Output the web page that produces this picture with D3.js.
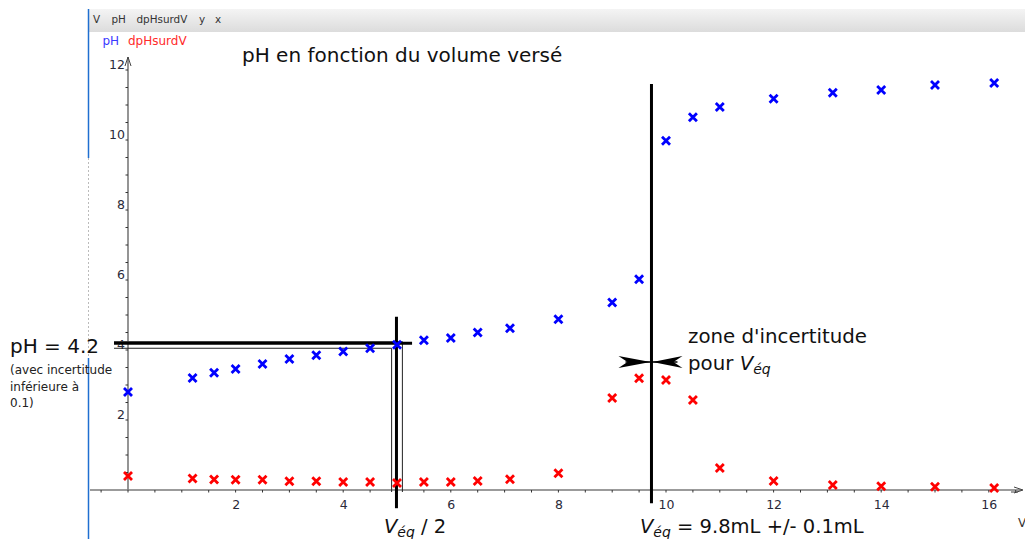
<!DOCTYPE html>
<html>
<head>
<meta charset="utf-8">
<script src="https://cdn.jsdelivr.net/npm/d3@7"></script>
<style>
html,body{margin:0;padding:0;background:#fff;}
svg{display:block;font-family:"DejaVu Sans",sans-serif;}
</style>
</head>
<body>
<svg id="chart" width="1025" height="539"></svg>
<script>
// ---- data ----
const volumes = [0, 1.2, 1.6, 2, 2.5, 3, 3.5, 4, 4.5, 5, 5.5, 6, 6.5, 7.1, 8, 9, 9.5, 10, 10.5, 11, 12, 13.1, 14, 15, 16.1];
const pHValues = [2.8, 3.2, 3.35, 3.46, 3.6, 3.74, 3.85, 3.96, 4.05, 4.15, 4.28, 4.34, 4.5, 4.62, 4.88, 5.36, 6.02, 9.98, 10.65, 10.94, 11.18, 11.35, 11.43, 11.57, 11.63];
const dpHValues = [0.4, 0.33, 0.3, 0.29, 0.29, 0.25, 0.25, 0.23, 0.23, 0.2, 0.23, 0.23, 0.26, 0.31, 0.48, 2.63, 3.19, 3.14, 2.57, 0.63, 0.26, 0.14, 0.11, 0.09, 0.06];
const xTickValues = [2, 4, 6, 8, 10, 12, 14, 16];
const yTickValues = [2, 4, 6, 8, 10, 12];
const headerLabels = ["V", "pH", "dpHsurdV", "y", "x"];
const legendLabels = ["pH", "dpHsurdV"];
const titleText = "pH en fonction du volume versé";
// annotation values (data units)
const vEq = 9.73, vEqTop = 11.6, vEqBottom = -0.38;
const vHalf = 4.99, vHalfTop = 4.95, vHalfBottom = -0.52;
const pHHalf = 4.19, pHLow = 4.05, pHHigh = 4.24, vLow = 4.9, vHigh = 5.1;
const hLineStart = -0.26, hLineEnd = 5.28;
const arrowPH = 3.66;

// ---- scales ----
const x = d3.scaleLinear().domain([0, 16]).range([128, 988.8]);
const y = d3.scaleLinear().domain([0, 12]).range([490, 70]);

const svg = d3.select("#chart");

// header band
const defs = svg.append("defs");
const grad = defs.append("linearGradient").attr("id", "hdr").attr("x1", 0).attr("x2", 0).attr("y1", 0).attr("y2", 1);
grad.append("stop").attr("offset", "0%").attr("stop-color", "#f4f4f4");
grad.append("stop").attr("offset", "100%").attr("stop-color", "#dcdcdc");
svg.append("rect").attr("x", 89).attr("y", 9).attr("width", 936).attr("height", 23).attr("fill", "url(#hdr)");
const hdrX = [93, 111.5, 136.5, 199, 215];
svg.append("g").selectAll("text").data(headerLabels).join("text")
  .attr("x", (d, i) => hdrX[i]).attr("y", 23)
  .attr("font-size", 10.4).attr("fill", "#333").text(d => d);

// left blue border
svg.append("line").attr("x1", 88.5).attr("x2", 88.5).attr("y1", 9).attr("y2", 158).attr("stroke", "#1f6fd0").attr("stroke-width", 1.5);
svg.append("line").attr("x1", 88.5).attr("x2", 88.5).attr("y1", 158).attr("y2", 358).attr("stroke", "#bbb").attr("stroke-width", 1).attr("stroke-dasharray", "2,2");
svg.append("line").attr("x1", 88.5).attr("x2", 88.5).attr("y1", 358).attr("y2", 539).attr("stroke", "#1f6fd0").attr("stroke-width", 1.5);

// legend
const legColors = ["#3a3aff", "#ff2a2a"];
const legX = [102.5, 128];
svg.append("g").selectAll("text").data(legendLabels).join("text")
  .attr("x", (d, i) => legX[i]).attr("y", 45)
  .attr("font-size", 12).attr("fill", (d, i) => legColors[i]).text(d => d);

// title
svg.append("text").attr("x", 242).attr("y", 62).attr("font-size", 20).attr("fill", "#111").text(titleText);

// axes lines
const axisColor = "#7a7a7a";
svg.append("line").attr("x1", 90).attr("x2", 1021).attr("y1", y(0)).attr("y2", y(0)).attr("stroke", axisColor).attr("stroke-width", 1.6);
svg.append("line").attr("x1", x(0)).attr("x2", x(0)).attr("y1", y(0)).attr("y2", 57).attr("stroke", axisColor).attr("stroke-width", 1.6);
// arrows
svg.append("path").attr("d", `M${x(0)-3},66 L${x(0)},57 L${x(0)+3},66`).attr("fill", "none").attr("stroke", "#444").attr("stroke-width", 1);
svg.append("path").attr("d", `M1014,${y(0)-3} L1023,${y(0)} L1014,${y(0)+3} M1011,${y(0)+2} L1018,${y(0)+2}`).attr("fill", "none").attr("stroke", "#444").attr("stroke-width", 1);

// minor ticks
const xMinor = d3.range(-0.5, 17.01, 0.5);
svg.append("g").selectAll("line").data(xMinor).join("line")
  .attr("x1", d => x(d)).attr("x2", d => x(d)).attr("y1", y(0)).attr("y2", y(0) + 2.5)
  .attr("stroke", "#333").attr("stroke-width", 1);
const yMinor = d3.range(0.5, 12.01, 0.5);
svg.append("g").selectAll("line").data(yMinor).join("line")
  .attr("x1", x(0) - 2.5).attr("x2", x(0)).attr("y1", d => y(d)).attr("y2", d => y(d))
  .attr("stroke", "#333").attr("stroke-width", 1);

// tick labels via d3 axes
const xAxis = d3.axisBottom(x).tickValues(xTickValues).tickSize(0).tickPadding(10).tickFormat(d3.format("d"));
const gx = svg.append("g").attr("transform", `translate(0,${y(0)})`).call(xAxis);
gx.select(".domain").remove();
gx.selectAll("text").attr("font-size", 12.5).attr("fill", "#2a2a3a").attr("font-family", "DejaVu Sans");
const yAxis = d3.axisLeft(y).tickValues(yTickValues).tickSize(0).tickPadding(3).tickFormat(d3.format("d"));
const gy = svg.append("g").attr("transform", `translate(${x(0)},0)`).call(yAxis);
gy.select(".domain").remove();
gy.selectAll("text").attr("font-size", 12.5).attr("fill", "#2a2a3a").attr("font-family", "DejaVu Sans").attr("dy", "-0.1em");

// annotation lines (behind markers)
const ann = svg.append("g");
ann.append("line").attr("x1", x(hLineStart)).attr("x2", x(vHigh)).attr("y1", y(pHHigh)).attr("y2", y(pHHigh)).attr("stroke", "#444").attr("stroke-width", 1);
ann.append("line").attr("x1", x(hLineStart)).attr("x2", x(vLow)).attr("y1", y(pHLow)).attr("y2", y(pHLow)).attr("stroke", "#222").attr("stroke-width", 1);
ann.append("line").attr("x1", x(vLow)).attr("x2", x(vLow)).attr("y1", y(pHLow)).attr("y2", y(0) + 2).attr("stroke", "#222").attr("stroke-width", 1);
ann.append("line").attr("x1", x(vHigh)).attr("x2", x(vHigh)).attr("y1", y(pHHigh)).attr("y2", y(0) + 2).attr("stroke", "#222").attr("stroke-width", 1);
ann.append("line").attr("x1", x(hLineStart)).attr("x2", x(hLineEnd)).attr("y1", y(pHHalf)).attr("y2", y(pHHalf)).attr("stroke", "#000").attr("stroke-width", 3);
ann.append("line").attr("x1", x(vHalf)).attr("x2", x(vHalf)).attr("y1", y(vHalfTop)).attr("y2", y(vHalfBottom)).attr("stroke", "#000").attr("stroke-width", 3);
ann.append("line").attr("x1", x(vEq)).attr("x2", x(vEq)).attr("y1", y(vEqTop)).attr("y2", y(vEqBottom)).attr("stroke", "#000").attr("stroke-width", 3);

// markers
function cross(g, xs, ys, color) {
  const s = 4;
  g.selectAll("path").data(xs).join("path")
    .attr("d", (d, i) => {
      const cx = x(d), cy = y(ys[i]);
      return `M${cx-s},${cy-s}L${cx+s},${cy+s}M${cx-s},${cy+s}L${cx+s},${cy-s}`;
    })
    .attr("stroke", color).attr("stroke-width", 2.8).attr("fill", "none");
}
cross(svg.append("g"), volumes, pHValues, "#0000ff");
cross(svg.append("g"), volumes, dpHValues, "#ff0000");

// uncertainty arrows at V_eq
const ax = x(vEq), ay = y(arrowPH);
svg.append("line").attr("x1", ax - 26).attr("x2", ax + 26).attr("y1", ay).attr("y2", ay).attr("stroke", "#000").attr("stroke-width", 1.5);
svg.append("path").attr("d", `M${ax-1},${ay} L${ax-33},${ay-6} L${ax-24},${ay} L${ax-33},${ay+6} Z`).attr("fill", "#000");
svg.append("path").attr("d", `M${ax+1},${ay} L${ax+31},${ay-6} L${ax+22},${ay} L${ax+31},${ay+6} Z`).attr("fill", "#000");

// texts
svg.append("text").attr("x", 10).attr("y", 353).attr("font-size", 20).attr("fill", "#111").text("pH = 4.2");
const noteLines = ["(avec incertitude", "inférieure à", "0.1)"];
svg.append("g").selectAll("text").data(noteLines).join("text")
  .attr("x", 10).attr("y", (d, i) => 374 + i * 16.5).attr("font-size", 12).attr("fill", "#222").text(d => d);

svg.append("text").attr("x", 688).attr("y", 343).attr("font-size", 19.8).attr("fill", "#111").text("zone d'incertitude");
const t2 = svg.append("text").attr("x", 688).attr("y", 370).attr("font-size", 19.8).attr("fill", "#111");
t2.append("tspan").text("pour ");
t2.append("tspan").attr("font-style", "italic").text("V");
t2.append("tspan").attr("font-style", "italic").attr("font-size", 14).attr("dy", 4).text("éq");

const t3 = svg.append("text").attr("x", 384).attr("y", 533).attr("font-size", 19.5).attr("fill", "#111");
t3.append("tspan").attr("font-style", "italic").text("V");
t3.append("tspan").attr("font-style", "italic").attr("font-size", 14).attr("dy", 4).text("éq");
t3.append("tspan").attr("dy", -4).text(" / 2");

const t4 = svg.append("text").attr("x", 640).attr("y", 533).attr("font-size", 19.5).attr("fill", "#111");
t4.append("tspan").attr("font-style", "italic").text("V");
t4.append("tspan").attr("font-style", "italic").attr("font-size", 14).attr("dy", 4).text("éq");
t4.append("tspan").attr("dy", -4).text(" = 9.8mL +/- 0.1mL");

// axis name
svg.append("text").attr("x", 1018).attr("y", 527).attr("font-size", 12).attr("fill", "#333").text("V");
</script>
</body>
</html>
